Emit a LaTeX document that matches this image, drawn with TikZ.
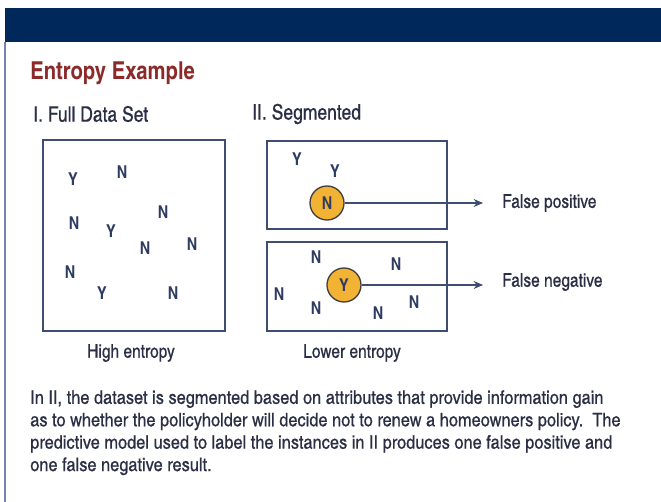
\documentclass[tikz,border=0pt]{standalone}
\usepackage{fontspec}
\setmainfont{Liberation Sans}
\newfontfamily\cn{texgyreheroscn}[Extension=.otf, UprightFont=*-regular, BoldFont=*-bold, ItalicFont=*-italic, BoldItalicFont=*-bolditalic]
\newfontfamily\cnm{texgyreheroscn}[Extension=.otf, UprightFont=*-regular, BoldFont=*-bold, ItalicFont=*-italic, BoldItalicFont=*-bolditalic, FakeBold=0.6]
\newfontfamily\cnp{texgyreheroscn}[Extension=.otf, UprightFont=*-regular, BoldFont=*-bold, ItalicFont=*-italic, BoldItalicFont=*-bolditalic, FakeBold=0.6, FakeStretch=1.07]
\usetikzlibrary{arrows.meta}
\definecolor{barnavy}{HTML}{00285A}
\definecolor{titlered}{HTML}{8C2A2A}
\definecolor{txt}{HTML}{2B2F45}
\definecolor{letter}{HTML}{2E3B63}
\definecolor{boxline}{HTML}{3F4D70}
\definecolor{gold}{HTML}{F2B233}
\definecolor{sideline}{HTML}{7484A4}
\tikzset{
  head/.style={inner sep=0pt, text=txt, font=\cnm\fontsize{16pt}{18pt}\selectfont},
  lbl/.style={inner sep=0pt, text=txt, font=\cnm\fontsize{14.2pt}{17pt}\selectfont},
  pt/.style={inner sep=0pt, text=letter, font=\cn\bfseries\fontsize{13.3pt}{15pt}\selectfont},
  setbox/.style={draw=boxline, line width=1.2pt},
  hit/.style={circle, draw=black!75, line width=1pt, fill=gold, minimum size=25.5pt, inner sep=0pt, text=letter, font=\cn\bfseries\fontsize{13.3pt}{15pt}\selectfont},
  arr/.style={draw=boxline, line width=1pt, -{Stealth[length=7pt,width=6pt]}}
}
\begin{document}
\begin{tikzpicture}[x=0.75pt,y=-0.75pt]
\useasboundingbox (0,0) rectangle (661,502);
\fill[white] (0,0) rectangle (661,502);
% header bar and side border
\fill[barnavy] (5,8) rectangle (661,42);
\draw[sideline, line width=1.5pt] (5,42) -- (5,502);
% title
\node[anchor=west, inner sep=0pt, text=titlered, font=\cn\bfseries\fontsize{18.5pt}{22pt}\selectfont] (title) at (30,73) {Entropy Example};
\node[head, anchor=west] (h1) at (33,114) {I. Full Data Set};
\node[head, anchor=west] (h2) at (252,114) {II. Segmented};
% boxes
\draw[setbox] (43,140) rectangle (225,331);
\draw[setbox] (267,141) rectangle (447,229);
\draw[setbox] (267,242) rectangle (447,331);
% full data set
\node[pt] (a1) at (73,179) {Y};
\node[pt] (a2) at (122,172) {N};
\node[pt] (a3) at (163,212) {N};
\node[pt] (a4) at (74,223) {N};
\node[pt] (a5) at (111,231) {Y};
\node[pt] (a6) at (145,248) {N};
\node[pt] (a7) at (192,244) {N};
\node[pt] (a8) at (70,272) {N};
\node[pt] (a9) at (102,293) {Y};
\node[pt] (a10) at (173,293) {N};
% segmented top
\node[pt] (b1) at (297,159) {Y};
\node[pt] (b2) at (335,171) {Y};
\node[hit] (fp) at (327,203) {N};
% segmented bottom
\node[pt] (c1) at (316,257) {N};
\node[pt] (c2) at (396,264) {N};
\node[pt] (c3) at (279,294) {N};
\node[hit] (fn) at (344,285) {Y};
\node[pt] (c4) at (316,308) {N};
\node[pt] (c5) at (378,313) {N};
\node[pt] (c6) at (414,302) {N};
% arrows
\coordinate (fpend) at (483,203);
\coordinate (fnend) at (483,285);
\draw[arr] (fp.east) -- (fpend);
\draw[arr] (fn.east) -- (fnend);
\node[lbl, anchor=west] (fpl) at (502,203) {False positive};
\node[lbl, anchor=west] (fnl) at (502,282) {False negative};
% captions
\node[lbl] (cap1) at (131,353) {High entropy};
\node[lbl] (cap2) at (352,353) {Lower entropy};
% paragraph
\node[anchor=north west, inner sep=0pt, align=left, text=txt, font=\cnp\fontsize{14pt}{16.8pt}\selectfont] (para) at (30,390) {In II, the dataset is segmented based on attributes that provide information gain\\as to whether the policyholder will decide not to renew a homeowners policy.\ \ The\\predictive model used to label the instances in II produces one false positive and\\one false negative result.};
\end{tikzpicture}
\end{document}
